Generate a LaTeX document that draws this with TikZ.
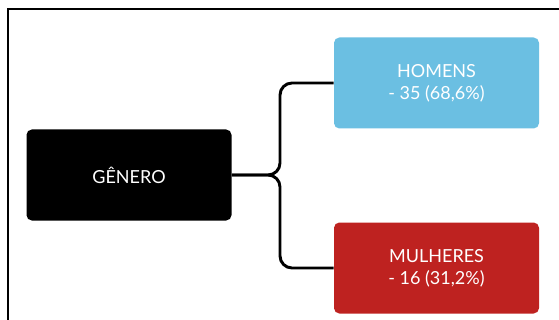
\documentclass[tikz,border=0pt]{standalone}
\usepackage{fontspec}
\setmainfont{Lato}
\usetikzlibrary{calc, positioning}
\definecolor{ink}{HTML}{000000}
\definecolor{sky}{HTML}{6BBFE2}
\definecolor{brick}{HTML}{BE2220}
\tikzset{
  catbox/.style={rounded corners=4pt, minimum width=205*0.75pt, minimum height=91*0.75pt,
    text=white, align=center, inner sep=0pt, font=\fontsize{13.5}{16.5}\selectfont},
  branch/.style={ink, line width=2.2pt, rounded corners=9pt},
}

\begin{document}
\begin{tikzpicture}[x=0.75pt, y=-0.75pt]
    \useasboundingbox (0,0) rectangle (559,320);
    % frame
    \draw[ink, line width=1.9pt] (8,322) -- (8,9) -- (561,9);
    % boxes
    \node[catbox, fill=ink] (genero) at (129,175) {GÊNERO};
    \node[catbox, fill=sky] (homens) at (436.5,83) {HOMENS\\- 35 (68,6\%)};
    \node[catbox, fill=brick] (mulheres) at (436.5,268) {MULHERES\\- 16 (31,2\%)};
    % branches
    \coordinate (split) at (280,175);
    \draw[branch] (genero.east) -- (split) |- (homens.west);
    \draw[branch] (genero.east) -- (split) |- (mulheres.west);
  \end{tikzpicture}
\end{document}
